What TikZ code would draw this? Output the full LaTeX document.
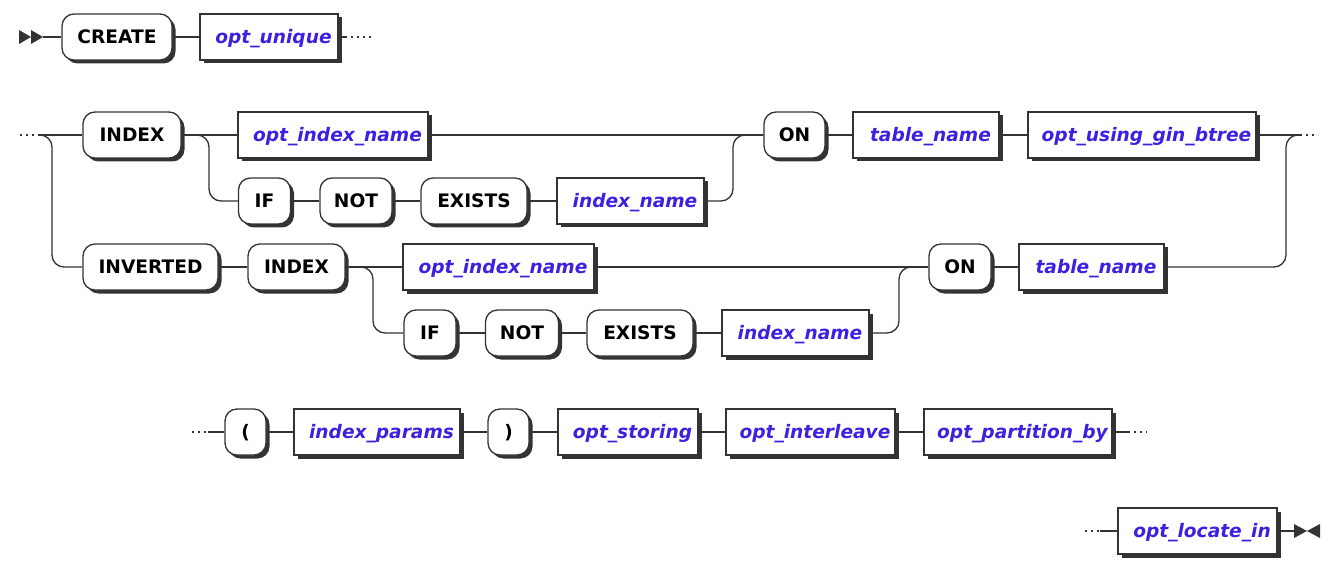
\documentclass[tikz,border=0pt]{standalone}
\usepackage{fontspec}
\setmainfont{DejaVu Sans}
\usetikzlibrary{shadows}
\definecolor{nt}{RGB}{64,32,224}
\definecolor{ln}{RGB}{51,51,51}
\newcommand{\ntpad}{\hspace*{9pt}}
\tikzset{
  base/.style={draw=ln, line width=1.3pt, fill=white, minimum height=46pt, inner sep=0pt,
    text height=17.5pt, text depth=4pt,
    drop shadow={shadow xshift=3.5pt, shadow yshift=-3.5pt, fill=ln, opacity=1}},
  term/.style={base, rounded corners=12pt, font=\fontsize{18.6}{22}\selectfont\bfseries, text=black},
  nterm/.style={base, font=\fontsize{18.6}{22}\selectfont\bfseries\itshape, text=nt},
  rail/.style={draw=ln, line width=1.3pt, rounded corners=12pt},
  dots/.style={draw=ln, line width=1.3pt, dash pattern=on 2pt off 4pt},
  endmark/.style={fill=ln, draw=none}
}
\begin{document}
\begin{tikzpicture}[x=1pt,y=-1pt]
\useasboundingbox (0,0) rectangle (1336,572);
% row 1
\node[term, minimum width=110pt] (create) at (117,37) {CREATE};
\node[nterm, minimum width=138pt] (unique) at (269,37) {\ntpad opt\_unique};
% row 2
\node[term, minimum width=98pt] (index1) at (132,135) {INDEX};
\node[nterm, minimum width=190pt] (optidx1) at (333,135) {\ntpad opt\_index\_name};
\node[term, minimum width=61pt] (on1) at (794.5,135) {ON};
\node[nterm, minimum width=146pt] (tn1) at (926,135) {\ntpad table\_name};
\node[nterm, minimum width=228pt] (gin) at (1142,135) {\ntpad opt\_using\_gin\_btree};
\node[term, minimum width=52pt] (if1) at (264.5,201) {IF};
\node[term, minimum width=72pt] (not1) at (356,201) {NOT};
\node[term, minimum width=106pt] (exists1) at (474,201) {EXISTS};
\node[nterm, minimum width=147pt] (idxn1) at (630.5,201) {\ntpad index\_name};
% row 3
\node[term, minimum width=135pt] (inverted) at (150.5,267) {INVERTED};
\node[term, minimum width=97pt] (index2) at (296.5,267) {INDEX};
\node[nterm, minimum width=191pt] (optidx2) at (498.5,267) {\ntpad opt\_index\_name};
\node[term, minimum width=62pt] (on2) at (960,267) {ON};
\node[nterm, minimum width=145pt] (tn2) at (1091.5,267) {\ntpad table\_name};
\node[term, minimum width=52pt] (if2) at (430,333) {IF};
\node[term, minimum width=73pt] (not2) at (522,333) {NOT};
\node[term, minimum width=106pt] (exists2) at (640,333) {EXISTS};
\node[nterm, minimum width=147pt] (idxn2) at (795.5,333) {\ntpad index\_name};
% row 4
\node[term, minimum width=41pt] (lp) at (245.5,432) {(};
\node[nterm, minimum width=166pt] (params) at (377,432) {\ntpad index\_params};
\node[term, minimum width=41pt] (rp) at (508.5,432) {)};
\node[nterm, minimum width=140pt] (storing) at (628,432) {\ntpad opt\_storing};
\node[nterm, minimum width=169pt] (interleave) at (810.5,432) {\ntpad opt\_interleave};
\node[nterm, minimum width=188pt] (partition) at (1018,432) {\ntpad opt\_partition\_by};
% row 5
\node[nterm, minimum width=159pt] (locate) at (1197.5,531) {\ntpad opt\_locate\_in};

% coordinates
\coordinate (start) at (43,37);
\coordinate (u1) at (345,37); \coordinate (u1d) at (372,37);
\coordinate (s2d) at (20,135); \coordinate (s2) at (38,135);
\coordinate (j1) at (52,267);
\coordinate (j2) at (209,201);
\coordinate (j3) at (733,135);
\coordinate (j4) at (1286,135);
\coordinate (e2) at (1300,135); \coordinate (e2d) at (1318,135);
\coordinate (j5) at (373,333);
\coordinate (j6) at (899,267);
\coordinate (s4d) at (192,432); \coordinate (s4) at (208,432);
\coordinate (e4) at (1128,432); \coordinate (e4d) at (1147,432);
\coordinate (s5d) at (1085,531); \coordinate (s5) at (1100,531);
\coordinate (fin) at (1294,531);

% markers
\fill[endmark] (19,30) -- (19,44) -- (31,37) -- cycle;
\fill[endmark] (31,30) -- (31,44) -- (start) -- cycle;
\fill[endmark] (fin) -- (1294,524) -- (1307,531) -- (1294,538) -- cycle;
\fill[endmark] (1320,524) -- (1320,538) -- (1307,531) -- cycle;

% row 1
\draw[rail] (start) -- (create.west);
\draw[rail] (create.east) -- (unique.west);
\draw[rail] (unique.east) -- (u1);
\draw[dots] (u1) -- (u1d);
% row 2
\draw[dots] (s2d) -- (s2);
\draw[rail] (s2) -- (index1.west);
\draw[rail] (s2) -| (j1) -- (inverted.west);
\draw[rail] (index1.east) -- (optidx1.west);
\draw[rail] (index1.east) -| (j2) -- (if1.west);
\draw[rail] (if1.east) -- (not1.west);
\draw[rail] (not1.east) -- (exists1.west);
\draw[rail] (exists1.east) -- (idxn1.west);
\draw[rail] (idxn1.east) -| (j3) -- (on1.west);
\draw[rail] (optidx1.east) -- (on1.west);
\draw[rail] (on1.east) -- (tn1.west);
\draw[rail] (tn1.east) -- (gin.west);
\draw[rail] (gin.east) -- (e2);
\draw[dots] (e2) -- (e2d);
\draw[rail] (tn2.east) -| (j4) -- (e2);
% row 3
\draw[rail] (inverted.east) -- (index2.west);
\draw[rail] (index2.east) -- (optidx2.west);
\draw[rail] (index2.east) -| (j5) -- (if2.west);
\draw[rail] (if2.east) -- (not2.west);
\draw[rail] (not2.east) -- (exists2.west);
\draw[rail] (exists2.east) -- (idxn2.west);
\draw[rail] (idxn2.east) -| (j6) -- (on2.west);
\draw[rail] (optidx2.east) -- (on2.west);
\draw[rail] (on2.east) -- (tn2.west);
% row 4
\draw[dots] (s4d) -- (s4);
\draw[rail] (s4) -- (lp.west);
\draw[rail] (lp.east) -- (params.west);
\draw[rail] (params.east) -- (rp.west);
\draw[rail] (rp.east) -- (storing.west);
\draw[rail] (storing.east) -- (interleave.west);
\draw[rail] (interleave.east) -- (partition.west);
\draw[rail] (partition.east) -- (e4);
\draw[dots] (e4) -- (e4d);
% row 5
\draw[dots] (s5d) -- (s5);
\draw[rail] (s5) -- (locate.west);
\draw[rail] (locate.east) -- (fin);
\end{tikzpicture}
\end{document}
